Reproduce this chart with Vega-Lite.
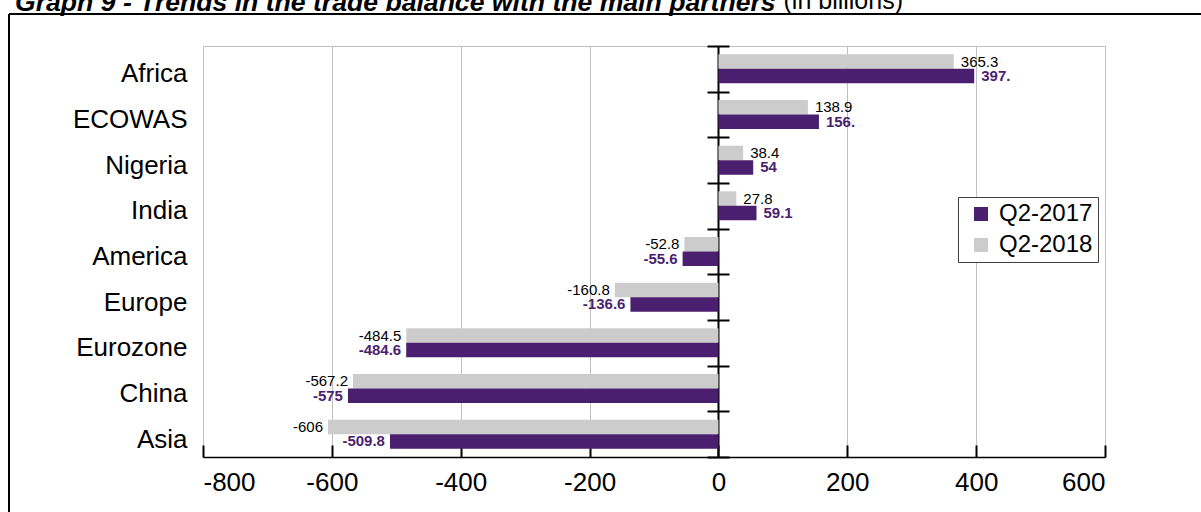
{
  "$schema": "https://vega.github.io/schema/vega-lite/v6.json",
  "width": 1192,
  "height": 498,
  "autosize": {"type": "none"},
  "padding": {"left": 9, "top": 14, "right": 0, "bottom": 0},
  "background": "white",
  "config": {
    "font": "Liberation Sans",
    "view": {"stroke": "black", "strokeWidth": 2, "strokeDash": [1192, 1690, 498, 0]}
  },
  "title": {
    "text": "Graph 9 - Trends in the trade balance with the main partners",
    "anchor": "start",
    "frame": "group",
    "fontSize": 26.6,
    "fontWeight": "bold",
    "fontStyle": "italic",
    "baseline": "alphabetic",
    "offset": 0,
    "dx": 6,
    "dy": 50,
    "color": "black",
    "font": "Liberation Sans"
  },
  "data": {
    "values": [
      {"partner": "Africa", "series": "Q2-2018", "value": 365.3, "label": "365.3"},
      {"partner": "Africa", "series": "Q2-2017", "value": 397, "label": "397."},
      {"partner": "ECOWAS", "series": "Q2-2018", "value": 138.9, "label": "138.9"},
      {"partner": "ECOWAS", "series": "Q2-2017", "value": 156, "label": "156."},
      {"partner": "Nigeria", "series": "Q2-2018", "value": 38.4, "label": "38.4"},
      {"partner": "Nigeria", "series": "Q2-2017", "value": 54, "label": "54"},
      {"partner": "India", "series": "Q2-2018", "value": 27.8, "label": "27.8"},
      {"partner": "India", "series": "Q2-2017", "value": 59.1, "label": "59.1"},
      {"partner": "America", "series": "Q2-2018", "value": -52.8, "label": "-52.8"},
      {"partner": "America", "series": "Q2-2017", "value": -55.6, "label": "-55.6"},
      {"partner": "Europe", "series": "Q2-2018", "value": -160.8, "label": "-160.8"},
      {"partner": "Europe", "series": "Q2-2017", "value": -136.6, "label": "-136.6"},
      {"partner": "Eurozone", "series": "Q2-2018", "value": -484.5, "label": "-484.5"},
      {"partner": "Eurozone", "series": "Q2-2017", "value": -484.6, "label": "-484.6"},
      {"partner": "China", "series": "Q2-2018", "value": -567.2, "label": "-567.2"},
      {"partner": "China", "series": "Q2-2017", "value": -575, "label": "-575"},
      {"partner": "Asia", "series": "Q2-2018", "value": -606, "label": "-606"},
      {"partner": "Asia", "series": "Q2-2017", "value": -509.8, "label": "-509.8"}
    ]
  },
  "resolve": {"axis": {"x": "independent"}},
  "layer": [
    {
      "mark": {"type": "bar"},
      "encoding": {
        "y": {
          "field": "partner", "type": "nominal",
          "sort": ["Africa", "ECOWAS", "Nigeria", "India", "America", "Europe", "Eurozone", "China", "Asia"],
          "scale": {"range": [32, 443], "paddingInner": 0, "paddingOuter": 0},
          "axis": {
            "orient": "left", "offset": -720, "domain": false, "grid": false,
            "ticks": true, "tickBand": "extent", "tickSize": 22, "tickWidth": 2, "tickColor": "black",
            "labelPadding": 520, "labelOffset": 5, "labelFontSize": 26, "labelColor": "black", "labelFont": "Liberation Sans",
            "title": "(in billions)", "titleAngle": 0, "titleX": 54, "titleY": -6,
            "titleAlign": "left", "titleBaseline": "alphabetic", "titleFontSize": 25,
            "titleFontWeight": "normal", "titleColor": "black", "titleFont": "Liberation Sans"
          }
        },
        "yOffset": {
          "field": "series", "type": "nominal", "sort": ["Q2-2018", "Q2-2017"],
          "scale": {"paddingInner": 0, "paddingOuter": 0.575}
        },
        "x": {
          "field": "value", "type": "quantitative",
          "scale": {"domain": [-800, 600], "range": [194, 1096], "nice": false, "zero": false},
          "axis": {
            "orient": "bottom", "offset": -55, "values": [-800, -600, -400, -200, 0, 200, 400, 600],
            "grid": false, "domainColor": "black", "domainWidth": 1.5,
            "tickColor": "black", "tickWidth": 2, "tickSize": -12,
            "labelPadding": 24, "labelFontSize": 26, "labelColor": "black", "labelFont": "Liberation Sans",
            "labelExpr": "replace(datum.label, '\u2212', '-')",
            "title": null
          }
        },
        "color": {
          "field": "series", "type": "nominal",
          "scale": {"domain": ["Q2-2017", "Q2-2018"], "range": ["#4b1f6f", "#cccccc"]},
          "legend": {
            "orient": "none", "legendX": 949, "legendY": 183, "direction": "vertical",
            "title": null, "symbolType": "square", "symbolSize": 196, "symbolStrokeWidth": 0,
            "labelFontSize": 24, "labelFont": "Liberation Sans", "labelColor": "black",
            "padding": 5, "rowPadding": 7, "symbolOffset": 6, "labelOffset": 6,
            "strokeColor": "#404040", "fillColor": "white"
          }
        }
      }
    },
    {
      "transform": [{"filter": "datum.series === 'Q2-2018'"}],
      "mark": {
        "type": "text", "baseline": "middle", "fontSize": 15, "color": "black", "font": "Liberation Sans",
        "align": {"expr": "datum.value < 0 ? 'right' : 'left'"},
        "dx": {"expr": "datum.value < 0 ? -5 : 7"}
      },
      "encoding": {
        "y": {
          "field": "partner", "type": "nominal",
          "sort": ["Africa", "ECOWAS", "Nigeria", "India", "America", "Europe", "Eurozone", "China", "Asia"],
          "axis": {
            "orient": "left", "offset": -720, "domain": false, "grid": false,
            "ticks": true, "tickBand": "extent", "tickSize": 22, "tickWidth": 2, "tickColor": "black",
            "labelPadding": 520, "labelOffset": 5, "labelFontSize": 26, "labelColor": "black", "labelFont": "Liberation Sans",
            "title": "(in billions)", "titleAngle": 0, "titleX": 54, "titleY": -6,
            "titleAlign": "left", "titleBaseline": "alphabetic", "titleFontSize": 25,
            "titleFontWeight": "normal", "titleColor": "black", "titleFont": "Liberation Sans"
          }
        },
        "yOffset": {"field": "series", "type": "nominal", "sort": ["Q2-2018", "Q2-2017"]},
        "x": {
          "field": "value", "type": "quantitative",
          "axis": {
            "orient": "top", "offset": -32, "values": [-800, -600, -400, -200, 0, 200, 400, 600],
            "domain": true, "domainColor": "#bfbfbf", "domainWidth": 1,
            "ticks": false, "labels": false, "title": null,
            "grid": true,
            "gridColor": {"condition": {"test": "datum.value === 0", "value": "black"}, "value": "#bfbfbf"},
            "gridWidth": {"condition": {"test": "datum.value === 0", "value": 2}, "value": 1}
          }
        },
        "text": {"field": "label", "type": "nominal"}
      }
    },
    {
      "transform": [{"filter": "datum.series === 'Q2-2017'"}],
      "mark": {
        "type": "text", "baseline": "middle", "fontSize": 15, "fontWeight": "bold", "color": "#4b1f6f", "font": "Liberation Sans",
        "align": {"expr": "datum.value < 0 ? 'right' : 'left'"},
        "dx": {"expr": "datum.value < 0 ? -5 : 7"}
      },
      "encoding": {
        "y": {
          "field": "partner", "type": "nominal",
          "sort": ["Africa", "ECOWAS", "Nigeria", "India", "America", "Europe", "Eurozone", "China", "Asia"],
          "axis": {
            "orient": "left", "offset": -720, "domain": false, "grid": false,
            "ticks": true, "tickBand": "extent", "tickSize": 22, "tickWidth": 2, "tickColor": "black",
            "labelPadding": 520, "labelOffset": 5, "labelFontSize": 26, "labelColor": "black", "labelFont": "Liberation Sans",
            "title": "(in billions)", "titleAngle": 0, "titleX": 54, "titleY": -6,
            "titleAlign": "left", "titleBaseline": "alphabetic", "titleFontSize": 25,
            "titleFontWeight": "normal", "titleColor": "black", "titleFont": "Liberation Sans"
          }
        },
        "yOffset": {"field": "series", "type": "nominal", "sort": ["Q2-2018", "Q2-2017"]},
        "x": {"field": "value", "type": "quantitative", "axis": null},
        "text": {"field": "label", "type": "nominal"}
      }
    }
  ]
}
